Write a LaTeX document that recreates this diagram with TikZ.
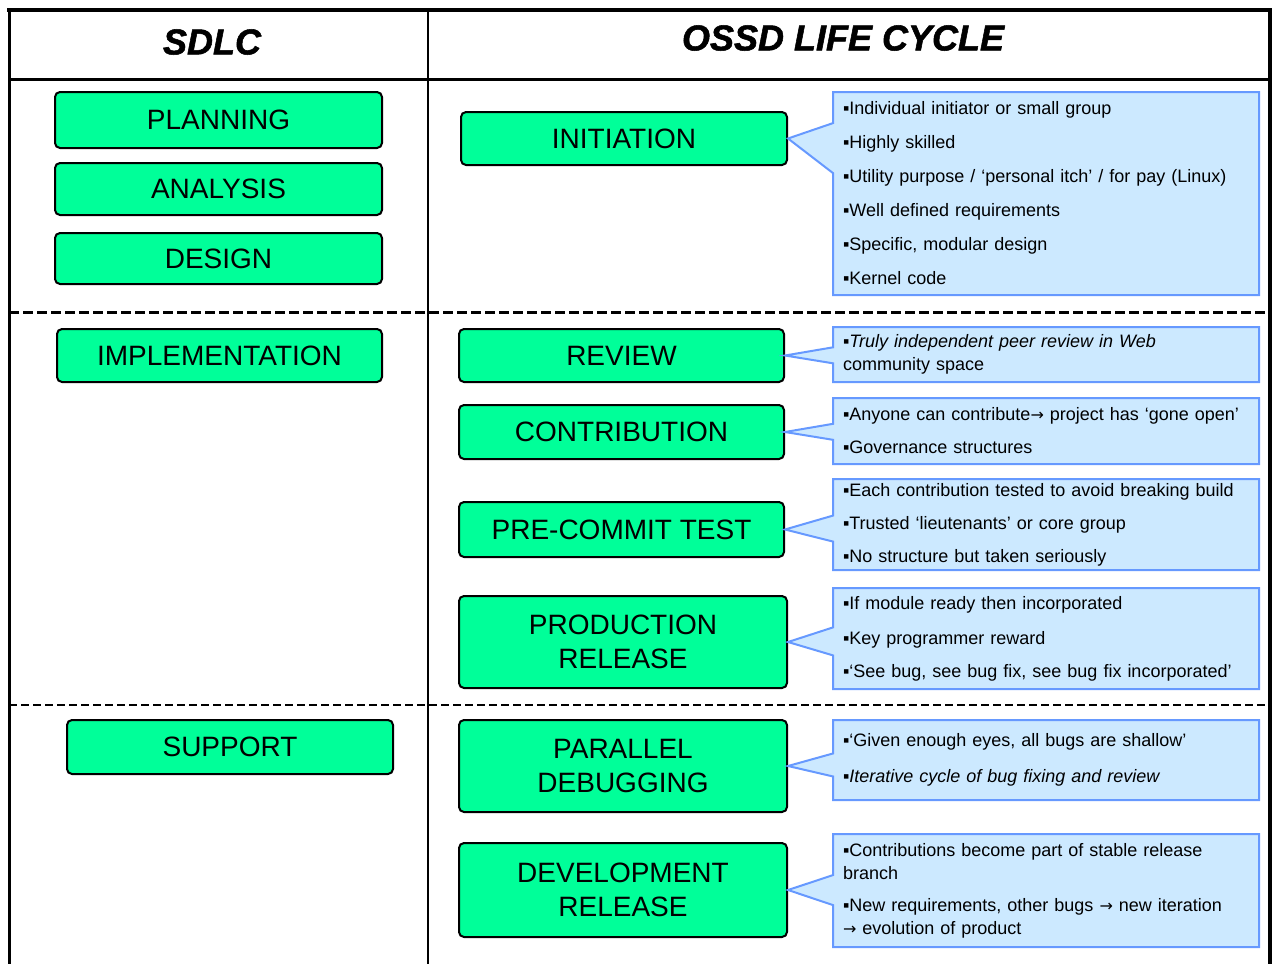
\documentclass[tikz,border=0pt]{standalone}
\usepackage{fontspec}
\setmainfont{Liberation Sans}
\newfontfamily\headfont[BoldItalicFeatures={FakeBold=1.5}]{Liberation Sans}
\newfontfamily\arrowfont{DejaVu Sans}
\usetikzlibrary{shapes.callouts}
\definecolor{phasegreen}{RGB}{0,255,153}
\definecolor{notefill}{RGB}{204,233,255}
\definecolor{noteline}{RGB}{102,153,255}
\tikzset{
 phase/.style={draw=black, line width=2pt, fill=phasegreen, rounded corners=5pt, align=center, inner sep=0pt, font=\fontsize{28}{34}\selectfont},
 note/.style={rectangle callout, draw=noteline, line width=2pt, fill=notefill, align=left, text width=406pt, inner xsep=10pt, inner ysep=0pt, font=\fontsize{18}{23}\selectfont},
 heading/.style={font=\headfont\fontsize{36}{40}\selectfont\bfseries\itshape}
}
\newcommand{\blt}{▪}
\newcommand{\ra}{{\arrowfont\fontsize{16}{23}\selectfont →}}

\begin{document}
\begin{tikzpicture}[x=1pt,y=-1pt]
\useasboundingbox (0,0) rectangle (1274,964);
\draw[line width=4pt] (7,10) -- (1272,10);
\draw[line width=3pt] (9,10) -- (9,964);
\draw[line width=4pt] (1270,10) -- (1270,964);
\draw[line width=2.5pt] (428,10) -- (428,964);
\draw[line width=3pt] (9,79) -- (1270,79);
\draw[line width=3pt, dash pattern=on 10pt off 4pt] (9,312) -- (1270,312);
\draw[line width=2.5pt, dash pattern=on 8pt off 4pt] (9,705) -- (1270,705);

\node[heading] (sdlc) at (212,42) {SDLC};
\node[heading] (ossd) at (843,38) {OSSD LIFE CYCLE};

\foreach \n/\t/\x/\y/\w/\h in {plan/PLANNING/218.5/120/327/56, anal/ANALYSIS/218.5/189/327/52,
  des/DESIGN/218.5/258.5/327/51, impl/IMPLEMENTATION/219.5/355.5/325/53, supp/SUPPORT/230/747/326/54}
 \node[phase, minimum width=\w, minimum height=\h] (\n) at (\x,\y) {\t};

\node[phase, minimum width=326, minimum height=53] (init) at (624,138.5) {INITIATION};
\node[phase, minimum width=325, minimum height=53] (rev) at (621.5,355.5) {REVIEW};
\node[phase, minimum width=325, minimum height=54] (contrib) at (621.5,432) {CONTRIBUTION};
\node[phase, minimum width=325, minimum height=55] (pct) at (621.5,529.5) {PRE-COMMIT TEST};
\node[phase, minimum width=328, minimum height=92] (prod) at (623,642) {PRODUCTION\\RELEASE};
\node[phase, minimum width=328, minimum height=92] (par) at (623,766) {PARALLEL\\DEBUGGING};
\node[phase, minimum width=328, minimum height=94] (dev) at (623,890) {DEVELOPMENT\\RELEASE};

\node[note, minimum height=203, callout absolute pointer={(init.east)}, callout pointer width=50pt] (ninit) at (1046,193.5)
 {\blt Individual initiator or small group\\[11pt]
  \blt Highly skilled\\[11pt]
  \blt Utility purpose / `personal itch' / for pay (Linux)\\[11pt]
  \blt Well defined requirements\\[11pt]
  \blt Specific, modular design\\[11pt]
  \blt Kernel code};
\node[note, minimum height=55, callout absolute pointer={(rev.east)}, callout pointer width=16pt] (nrev) at (1046,354.5)
 {\blt\textit{Truly independent peer review in Web}\\
  community space};
\node[note, minimum height=66, callout absolute pointer={(contrib.east)}, callout pointer width=16pt] (ncontrib) at (1046,431)
 {\blt Anyone can contribute\ra{} project has `gone open'\\[10pt]
  \blt Governance structures};
\node[note, minimum height=91, callout absolute pointer={(pct.east)}, callout pointer width=26pt] (npct) at (1046,524.5)
 {\blt Each contribution tested to avoid breaking build\\[10pt]
  \blt Trusted `lieutenants' or core group\\[10pt]
  \blt No structure but taken seriously};
\node[note, minimum height=101, callout absolute pointer={(prod.east)}, callout pointer width=28pt] (nprod) at (1046,638.5)
 {\blt If module ready then incorporated\\[12pt]
  \blt Key programmer reward\\[10pt]
  \blt`See bug, see bug fix, see bug fix incorporated'};
\node[note, minimum height=80, callout absolute pointer={(par.east)}, callout pointer width=23pt] (npar) at (1046,760)
 {\blt`Given enough eyes, all bugs are shallow'\\[13pt]
  \blt\textit{Iterative cycle of bug fixing and review}};
\node[note, minimum height=113, callout absolute pointer={(dev.east)}, callout pointer width=30pt] (ndev) at (1046,890.5)
 {\blt Contributions become part of stable release\\
  branch\\[9pt]
  \blt New requirements, other bugs \ra{} new iteration\\
  \ra{} evolution of product};
\end{tikzpicture}
\end{document}
